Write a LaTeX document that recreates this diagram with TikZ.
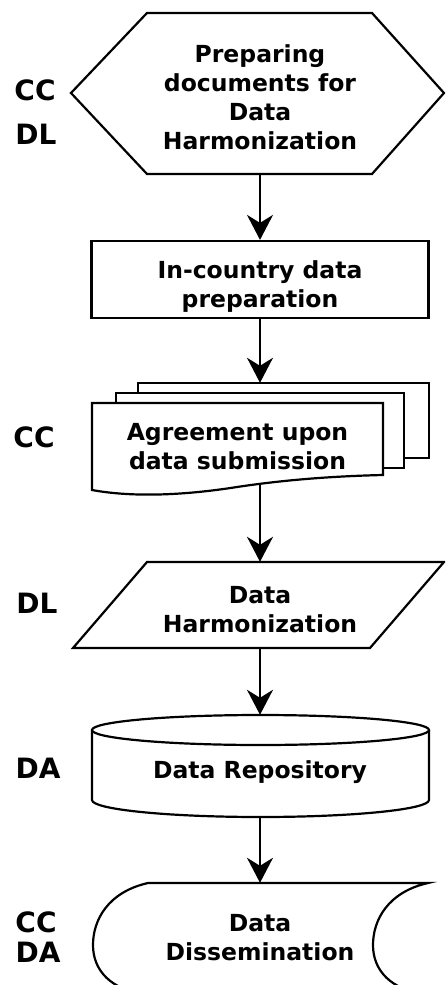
\documentclass[tikz,border=0pt]{standalone}
\usepackage{fontspec}
\setmainfont{DejaVu Sans}
\usetikzlibrary{positioning,arrows.meta}
\tikzset{
    block/.style={rectangle, draw=black, line width=2.2pt, minimum width=337pt, minimum height=77pt, align=center, font=\bfseries\fontsize{23.5}{29}\selectfont},
    shape_text/.style={align=center, inner sep=0pt, font=\bfseries\fontsize{23.5}{29}\selectfont},
    outline/.style={draw=black, line width=2.2pt, fill=white},
    role_tag/.style={inner sep=0pt, font=\bfseries\fontsize{28}{30}\selectfont},
    line/.style={-{Stealth[length=25pt,width=26pt,inset=8pt]}, line width=2.2pt},
}
\begin{document}
\begin{tikzpicture}
        [x=1pt, y=-1pt]

        \useasboundingbox (0,0) rectangle (445,985);
        \clip (0,0) rectangle (445,985);

        % Outlines of the flowchart symbols
        \draw[outline] (71,93) -- (147,13) -- (372,13) -- (444,93) -- (372,174) -- (147,174) -- cycle;
        \draw[outline] (138,383) rectangle (429,458);
        \draw[outline] (116,393) rectangle (404,468);
        \draw[outline] (92,403) -- (383,403) -- (383,475)
            .. controls (340,476) and (290,479) .. (237,487)
            .. controls (180,496) and (130,497) .. (92,490) -- cycle;
        \draw[outline] (147,562) -- (444,562) -- (370,648) -- (73,648) -- cycle;
        \draw[outline] (92,730) -- (92,800) arc[start angle=180, end angle=0, x radius=168.5, y radius=17] -- (429,730);
        \draw[outline] (260.5,730) ellipse [x radius=168.5, y radius=15];
        \draw[outline] (148,883) -- (428,883)
            .. controls (388,892) and (373,920) .. (373,945)
            .. controls (373,970) and (390,990) .. (428,995)
            -- (148,995)
            .. controls (110,990) and (93,970) .. (93,945)
            .. controls (93,920) and (108,892) .. (148,883) -- cycle;

        % Nodes of the process
        \node[shape_text, minimum height=153pt] (prep) at (260,97.5) {Preparing\\documents for\\Data\\Harmonization};
        \node[block, text height=60pt] (incountry) at (260,279.5) {In-country data\\preparation};
        \node[minimum width=337pt, minimum height=102pt, inner sep=0pt] (agreement) at (260,434) {};
        \node[shape_text] (agreementtext) at (237.5,447) {Agreement upon\\data submission};
        \node[shape_text, minimum height=86pt, text height=55pt] (harmon) at (260,605) {Data\\Harmonization};
        \node[shape_text, minimum height=102pt, text height=24pt, text depth=0pt] (repo) at (260,766) {Data Repository};
        \node[shape_text, minimum height=110pt] (dissem) at (260,938) {Data\\Dissemination};

        % Who is in charge
        \node[role_tag] (ccprep) at (35,90) {CC};
        \node[role_tag] (dlprep) at (36,134) {DL};
        \node[role_tag] (ccagree) at (34,437) {CC};
        \node[role_tag] (dlharm) at (37,603) {DL};
        \node[role_tag] (darepo) at (38,768) {DA};
        \node[role_tag] (ccdiss) at (36,922) {CC};
        \node[role_tag] (dadiss) at (38,952) {DA};

        % Lines
        \draw[line] (prep) -- (incountry);
        \draw[line] (incountry) -- (agreement);
        \draw[line] (agreement) -- (harmon);
        \draw[line] (harmon) -- (repo);
        \draw[line] (repo) -- (dissem);

    \end{tikzpicture}
\end{document}
